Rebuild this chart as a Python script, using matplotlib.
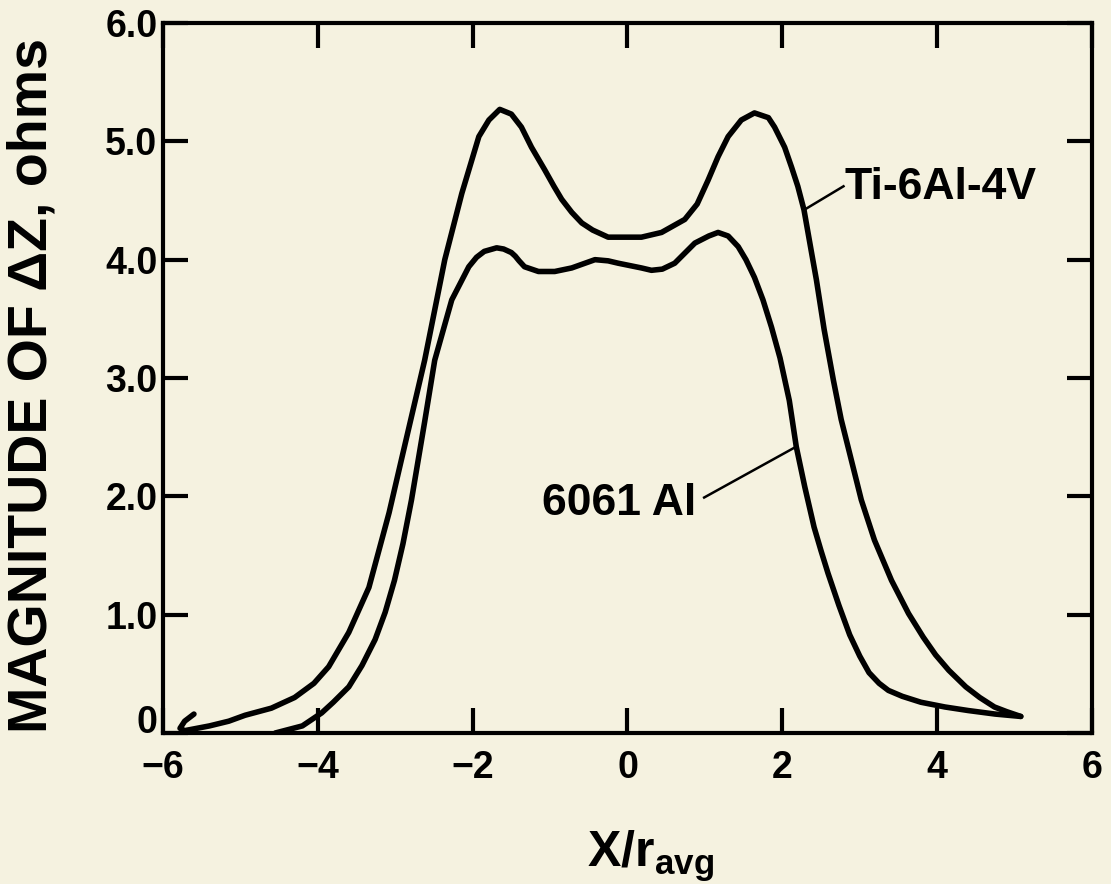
import matplotlib
matplotlib.use("Agg")
import matplotlib.pyplot as plt

# values (x in units of r_avg, y in ohms)
ti_x = [-5.60, -5.72, -5.78, -5.72, -5.40, -5.15, -4.94, -4.60, -4.30, -4.05, -3.86,
        -3.60, -3.34, -3.08, -2.92, -2.62, -2.36, -2.14, -1.92, -1.79, -1.65, -1.50,
        -1.37, -1.24, -1.07, -0.95, -0.85, -0.72, -0.59, -0.45, -0.25, 0.18, 0.44,
        0.74, 0.90, 1.04, 1.17, 1.30, 1.47, 1.64, 1.82, 1.90, 2.03, 2.12, 2.20, 2.28,
        2.38, 2.44, 2.54, 2.66, 2.76, 2.89, 3.02, 3.19, 3.41, 3.63, 3.82, 3.98, 4.15,
        4.37, 4.55, 4.74, 4.90, 5.08]
ti_y = [0.16, 0.10, 0.04, 0.02, 0.06, 0.10, 0.15, 0.21, 0.30, 0.42, 0.56,
        0.85, 1.23, 1.86, 2.31, 3.15, 4.00, 4.56, 5.04, 5.18, 5.27, 5.23,
        5.12, 4.95, 4.76, 4.62, 4.51, 4.40, 4.31, 4.25, 4.19, 4.19, 4.23,
        4.34, 4.47, 4.67, 4.87, 5.04, 5.18, 5.24, 5.20, 5.12, 4.95, 4.78, 4.62, 4.42,
        4.05, 3.83, 3.41, 2.98, 2.65, 2.31, 1.97, 1.63, 1.29, 1.01, 0.81, 0.66, 0.53,
        0.39, 0.30, 0.22, 0.18, 0.14]

al_x = [-4.55, -4.20, -3.95, -3.80, -3.60, -3.43, -3.26, -3.13, -3.01, -2.90, -2.79,
        -2.62, -2.49, -2.27, -2.05, -1.95, -1.85, -1.69, -1.60, -1.50, -1.45, -1.40,
        -1.33, -1.15, -0.94, -0.72, -0.42, -0.25, -0.12, 0.18, 0.31, 0.45, 0.61,
        0.87, 1.05, 1.17, 1.30, 1.43, 1.53, 1.64, 1.75, 1.86, 1.97, 2.09, 2.18, 2.29,
        2.41, 2.50, 2.59, 2.73, 2.87, 3.00, 3.12, 3.25, 3.37, 3.55, 3.79, 4.10, 4.40,
        4.75, 5.08]
al_y = [0.00, 0.06, 0.17, 0.26, 0.39, 0.57, 0.79, 1.02, 1.29, 1.60, 1.97,
        2.63, 3.15, 3.66, 3.94, 4.02, 4.07, 4.10, 4.09, 4.06, 4.03, 3.99,
        3.94, 3.90, 3.90, 3.93, 4.00, 3.99, 3.97, 3.93, 3.91, 3.92, 3.97,
        4.14, 4.20, 4.23, 4.20, 4.11, 4.00, 3.85, 3.66, 3.43, 3.17, 2.81, 2.42, 2.08,
        1.74, 1.54, 1.35, 1.08, 0.83, 0.65, 0.51, 0.42, 0.36, 0.31, 0.26, 0.22, 0.19,
        0.16, 0.14]

xticks = [-6, -4, -2, 0, 2, 4, 6]
xticklabels = ['\u22126', '\u22124', '\u22122', '0', '2', '4', '6']
yticks = [0, 1, 2, 3, 4, 5, 6]
yticklabels = ['0', '1.0', '2.0', '3.0', '4.0', '5.0', '6.0']

plt.rcParams['font.family'] = ['Liberation Sans', 'DejaVu Sans']
plt.rcParams['mathtext.default'] = 'regular'

paper = '#f5f2e0'
fig = plt.figure(figsize=(11.11, 8.84), dpi=100, facecolor=paper)
ax = fig.add_axes([0.1467, 0.1708, 0.8362, 0.8032], facecolor=paper)

ax.plot(ti_x, ti_y, color='black', lw=4, solid_capstyle='round', solid_joinstyle='round')
ax.plot(al_x, al_y, color='black', lw=4, solid_capstyle='round', solid_joinstyle='round')

# curve labels with leader lines
ax.plot([2.28, 2.79], [4.42, 4.62], color='black', lw=1.8)
ax.text(2.80, 4.61, 'Ti-6Al-4V', fontsize=32, fontweight='bold', ha='left', va='center')
ax.plot([0.99, 2.18], [1.99, 2.42], color='black', lw=1.8)
ax.text(0.89, 1.94, '6061 Al', fontsize=32, fontweight='bold', ha='right', va='center')

ax.set_xlim(-6, 6)
ax.set_ylim(0, 6)
ax.set_xticks(xticks)
ax.set_xticklabels(xticklabels)
ax.set_yticks(yticks)
ax.set_yticklabels(yticklabels)
ax.tick_params(direction='in', length=18, width=3, top=True, right=True,
               labelsize=27, color='black')
ax.tick_params(axis='x', pad=12)
ax.tick_params(axis='y', pad=4)
for lab in ax.get_xticklabels() + ax.get_yticklabels():
    lab.set_fontweight('bold')
ax.get_yticklabels()[0].set_va('baseline')
for s in ax.spines.values():
    s.set_linewidth(3)

ax.set_ylabel('MAGNITUDE OF \u0394Z, ohms', fontsize=40, fontweight='bold')
ax.yaxis.set_label_coords(-0.112, 0.49)
ax.set_xlabel(r'X/r$_{avg}$', fontsize=36, fontweight='bold')
ax.xaxis.set_label_coords(0.525, -0.135)

fig.savefig('out.png', dpi=100, facecolor=paper)
